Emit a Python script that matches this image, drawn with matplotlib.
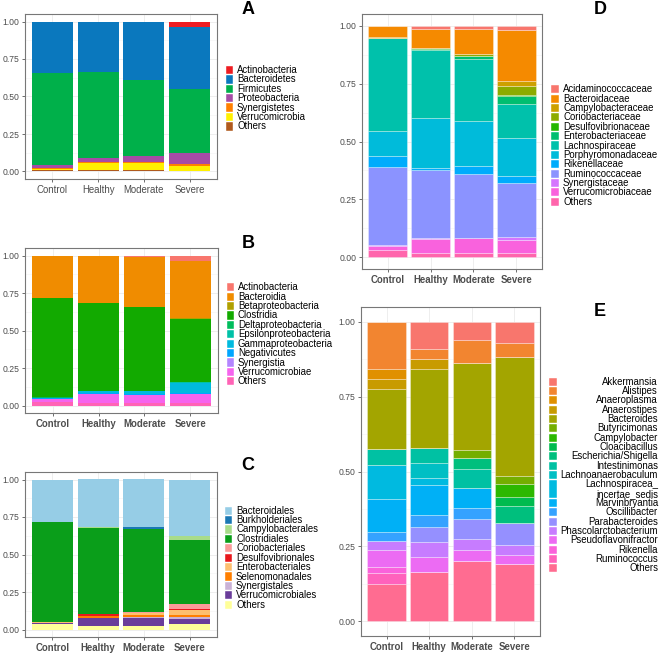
import matplotlib
matplotlib.use('Agg')
import matplotlib.pyplot as plt
from matplotlib.patches import Rectangle
import numpy as np

plt.rcParams['font.family'] = ['Liberation Sans', 'DejaVu Sans']

groups = ['Control', 'Healthy', 'Moderate', 'Severe']

# ---- panel A: phylum
a_taxa = ['Actinobacteria', 'Bacteroidetes', 'Firmicutes', 'Proteobacteria',
          'Synergistetes', 'Verrucomicrobia', 'Others']
a_vals = [[0.000, 0.000, 0.000, 0.034],
          [0.345, 0.335, 0.390, 0.414],
          [0.615, 0.572, 0.510, 0.432],
          [0.015, 0.033, 0.040, 0.070],
          [0.008, 0.003, 0.004, 0.013],
          [0.009, 0.050, 0.044, 0.032],
          [0.008, 0.007, 0.012, 0.005]]
a_cols = ['#EE1C22', '#0A78BE', '#00B04A', '#A64CA6', '#FF8000', '#FFF000', '#B05A1E']

# ---- panel B: class
b_taxa = ['Actinobacteria', 'Bacteroidia', 'Betaproteobacteria', 'Clostridia',
          'Deltaproteobacteria', 'Epsilonproteobacteria', 'Gammaproteobacteria',
          'Negativicutes', 'Synergistia', 'Verrucomicrobiae', 'Others']
b_vals = [[0.000, 0.000, 0.008, 0.035],
          [0.280, 0.314, 0.332, 0.383],
          [0.002, 0.002, 0.002, 0.002],
          [0.663, 0.584, 0.558, 0.423],
          [0.003, 0.004, 0.003, 0.003],
          [0.000, 0.002, 0.002, 0.004],
          [0.004, 0.010, 0.015, 0.068],
          [0.003, 0.006, 0.008, 0.002],
          [0.002, 0.003, 0.002, 0.005],
          [0.018, 0.060, 0.055, 0.055],
          [0.025, 0.015, 0.015, 0.020]]
b_cols = ['#F8766D', '#F08C00', '#B0A000', '#12AA00', '#00BD5C', '#00C1A7',
          '#00BADE', '#00A6FF', '#B385FF', '#F564EE', '#FF63B6']

# ---- panel C: order
c_taxa = ['Bacteroidales', 'Burkholderiales', 'Campylobacterales', 'Clostridiales',
          'Coriobacteriales', 'Desulfovibrionales', 'Enterobacteriales',
          'Selenomonadales', 'Synergistales', 'Verrucomicrobiales', 'Others']
c_vals = [[0.280, 0.317, 0.317, 0.377],
          [0.000, 0.002, 0.013, 0.002],
          [0.002, 0.001, 0.001, 0.025],
          [0.668, 0.575, 0.555, 0.426],
          [0.002, 0.002, 0.002, 0.035],
          [0.001, 0.010, 0.002, 0.003],
          [0.002, 0.005, 0.015, 0.035],
          [0.002, 0.008, 0.012, 0.012],
          [0.001, 0.002, 0.003, 0.015],
          [0.008, 0.056, 0.055, 0.035],
          [0.034, 0.022, 0.025, 0.035]]
c_cols = ['#96CDE6', '#1A78B4', '#A8DC8A', '#0A9E1A', '#FB9A99', '#E8181C',
          '#FDBF6F', '#FF7F00', '#CAB2D6', '#6A3D9A', '#FFFF99']

# ---- panel D: family
d_taxa = ['Acidaminococcaceae', 'Bacteroidaceae', 'Campylobacteraceae',
          'Coriobacteriaceae', 'Desulfovibrionaceae', 'Enterobacteriaceae',
          'Lachnospiraceae', 'Porphyromonadaceae', 'Rikenellaceae',
          'Ruminococcaceae', 'Synergistaceae', 'Verrucomicrobiaceae', 'Others']
d_vals = [[0.000, 0.014, 0.014, 0.020],
          [0.050, 0.082, 0.108, 0.219],
          [0.004, 0.001, 0.001, 0.022],
          [0.000, 0.001, 0.008, 0.040],
          [0.000, 0.005, 0.002, 0.002],
          [0.001, 0.004, 0.012, 0.037],
          [0.400, 0.293, 0.265, 0.143],
          [0.108, 0.215, 0.195, 0.167],
          [0.047, 0.010, 0.035, 0.030],
          [0.338, 0.292, 0.275, 0.230],
          [0.004, 0.003, 0.002, 0.013],
          [0.015, 0.060, 0.063, 0.057],
          [0.033, 0.020, 0.020, 0.020]]
d_cols = ['#F8766D', '#F58A00', '#CDA000', '#8CAB00', '#24B700', '#00BE70',
          '#00C1AB', '#00BBDA', '#00ACFC', '#8B93FF', '#D575FE', '#F962DD', '#FF65AC']

# ---- panel E: genus
e_taxa = ['Akkermansia', 'Alistipes', 'Anaeroplasma', 'Anaerostipes', 'Bacteroides',
          'Butyricimonas', 'Campylobacter', 'Cloacibacillus', 'Escherichia/Shigella',
          'Intestinimonas', 'Lachnoanaerobaculum', 'Lachnospiracea_\nincertae_sedis',
          'Marvinbryantia', 'Oscillibacter', 'Parabacteroides', 'Phascolarctobacterium',
          'Pseudoflavonifractor', 'Rikenella', 'Ruminococcus', 'Others']
e_vals = [[0.000, 0.092, 0.060, 0.070],
          [0.157, 0.032, 0.078, 0.048],
          [0.033, 0.000, 0.000, 0.000],
          [0.033, 0.033, 0.000, 0.000],
          [0.203, 0.263, 0.290, 0.398],
          [0.000, 0.000, 0.026, 0.025],
          [0.000, 0.000, 0.000, 0.045],
          [0.000, 0.000, 0.000, 0.029],
          [0.000, 0.000, 0.037, 0.058],
          [0.052, 0.053, 0.064, 0.000],
          [0.000, 0.048, 0.000, 0.000],
          [0.113, 0.025, 0.000, 0.000],
          [0.110, 0.100, 0.068, 0.000],
          [0.033, 0.040, 0.036, 0.000],
          [0.000, 0.051, 0.067, 0.074],
          [0.030, 0.049, 0.036, 0.031],
          [0.054, 0.050, 0.038, 0.030],
          [0.022, 0.000, 0.000, 0.000],
          [0.035, 0.000, 0.000, 0.000],
          [0.125, 0.164, 0.200, 0.192]]
e_cols = ['#F8766D', '#F28530', '#E09000', '#C89B00', '#A3A500', '#74AE00', '#2CB800',
          '#00BB4E', '#00BF7D', '#00C1A3', '#00BFC4', '#00BAE0', '#00B0F6', '#35A2FF',
          '#9590FF', '#C77CFF', '#EC6BF3', '#FA62DB', '#FF62BC', '#FF6C91']

W, H = 660, 654
fig = plt.figure(figsize=(W / 100, H / 100), dpi=100)


def fx(x):
    return x / W


def fy(y):
    return 1 - y / H


def panel(box, vals, cols, bold, edges):
    l, t, r, b = box
    ax = fig.add_axes([fx(l), fy(b), (r - l) / W, (b - t) / H])
    vals = np.array(vals)
    x = np.arange(len(groups))
    bottom = np.zeros(len(groups))
    for i in range(len(vals) - 1, -1, -1):
        if edges:
            ax.bar(x, vals[i], 0.9, bottom=bottom, color=cols[i],
                   edgecolor=(1, 1, 1, 0.55), linewidth=0.4, zorder=2)
        else:
            ax.bar(x, vals[i], 0.9, bottom=bottom, color=cols[i], linewidth=0, zorder=2)
        bottom += vals[i]
    ax.set_xlim(-0.6, 3.6)
    ax.set_ylim(-0.05, 1.05)
    ax.set_xticks(x)
    ax.set_xticklabels(groups, fontsize=6.9, color='#4D4D4D',
                       fontweight='bold' if bold else 'normal')
    ax.set_yticks([0, 0.25, 0.5, 0.75, 1.0])
    ax.set_yticklabels(['0.00', '0.25', '0.50', '0.75', '1.00'], fontsize=6.2, color='#4D4D4D')
    ax.set_yticks([0.125, 0.375, 0.625, 0.875], minor=True)
    ax.grid(True, which='major', color='#EBEBEB', linewidth=0.6, zorder=0)
    ax.grid(True, which='minor', axis='y', color='#F3F3F3', linewidth=0.4, zorder=0)
    ax.set_axisbelow(True)
    ax.tick_params(which='major', length=2.2, width=0.5, color='#333333', pad=2)
    ax.tick_params(which='minor', length=0)
    for s in ax.spines.values():
        s.set_color('#777777')
        s.set_linewidth(0.8)
    return ax


def legend(labels, cols, kx0, kx1, tx, y0, step, ha='left'):
    line = 0
    for lab, c in zip(labels, cols):
        n = lab.count('\n') + 1
        top = y0 + line * step - step / 2
        hgt = n * step
        fig.patches.append(Rectangle((fx(kx0), fy(top + hgt - 0.6)), (kx1 - kx0) / W,
                                     (hgt - 1.2) / H, transform=fig.transFigure,
                                     facecolor=c, edgecolor='white', linewidth=0.3))
        for j, part in enumerate(lab.split('\n')):
            fig.text(fx(tx), fy(y0 + (line + j) * step), part, fontsize=6.9,
                     ha=ha, va='center', color='black')
        line += n


panel((25, 14, 217, 179), a_vals, a_cols, False, False)
panel((25, 248, 218, 413), b_vals, b_cols, True, False)
panel((25, 472, 217, 637), c_vals, c_cols, True, False)
panel((362, 14, 542, 269), d_vals, d_cols, True, True)
panel((361, 307, 540, 636), e_vals, e_cols, True, True)

legend(a_taxa, a_cols, 225.5, 233, 237, 70, 9.4)
legend(b_taxa, b_cols, 226.5, 233.5, 238, 287.3, 9.4)
legend(c_taxa, c_cols, 224.5, 232, 236, 510.7, 9.4)
legend(d_taxa, d_cols, 550.5, 558.5, 563, 89.3, 9.37)
legend(e_taxa, e_cols, 548.5, 556.5, 658, 381.7, 9.33, ha='right')

for lab, x, y in [('A', 248, 10), ('B', 248, 243), ('C', 248, 466),
                  ('D', 600, 9), ('E', 600, 311)]:
    fig.text(fx(x), fy(y), lab, fontsize=13, fontweight='bold', ha='center', va='center')

fig.savefig('out.png', dpi=100)
